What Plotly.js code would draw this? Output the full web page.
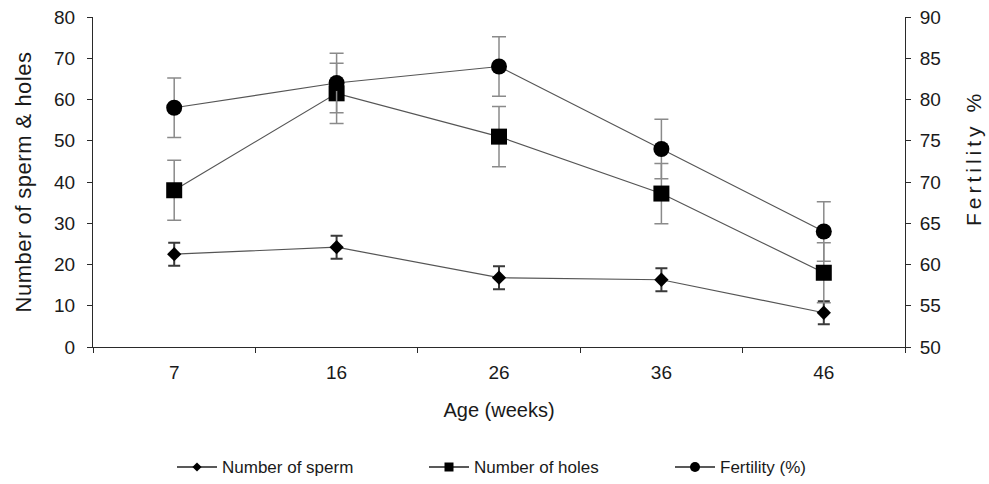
<!DOCTYPE html>
<html>
<head>
<meta charset="utf-8">
<script src="https://cdn.plot.ly/plotly-3.0.1.min.js"></script>
<style>
  html, body { margin: 0; padding: 0; background: #ffffff; }
  #chart { width: 989px; height: 484px; }
  /* the fertility axis title is set with wide letter spacing, a little above centre */
  #chart .g-y2title text { letter-spacing: 4px; }
  #chart .g-y2title { transform: translateY(-24px); }
  #chart .g-ytitle text { letter-spacing: 0.5px; }
</style>
</head>
<body>
<div id="chart"></div>
<script>
// Age groups (weeks)
const ages = ["7", "16", "26", "36", "46"];

// Sperm count and hole count per group (left axis), with standard errors
const spermCount = [22.5, 24.2, 16.8, 16.3, 8.3];
const spermErr = [2.8, 2.8, 2.8, 2.8, 2.8];
const holeCount = [38, 61.5, 51, 37.2, 18];
const holeErr = [7.3, 7.3, 7.3, 7.3, 7.3];

// Fertility (%) per group (right axis), with standard errors
const fertility = [79, 82, 84, 74, 64];
const fertilityErr = [3.6, 3.6, 3.6, 3.6, 3.6];

// Legend entries
const seriesNames = ["Number of sperm", "Number of holes", "Fertility (%)"];
const seriesSymbols = ["diamond", "square", "circle"];

const FONT = '"Liberation Sans", Arial, sans-serif';
const TEXT = '#1a1a1a';
const LINE = '#555555';
const ERR = '#8a8a8a';

// Plot area in pixels (used to place the hand-built legend below the axis)
const W = 989, H = 484;
const M = { l: 93, r: 84, t: 17, b: 137 };
const plotW = W - M.l - M.r, plotH = H - M.t - M.b;
const toPaperX = px => (px - M.l) / plotW;
const toPaperY = py => (H - M.b - py) / plotH;

const traces = [
  {
    name: seriesNames[0],
    x: ages, y: spermCount, yaxis: 'y',
    type: 'scatter', mode: 'lines+markers',
    line: { color: LINE, width: 1.2 },
    marker: { symbol: seriesSymbols[0], size: 11, color: '#000000' },
    error_y: { type: 'data', array: spermErr, visible: true, color: '#3a3a3a', thickness: 2, width: 6 }
  },
  {
    name: seriesNames[1],
    x: ages, y: holeCount, yaxis: 'y',
    type: 'scatter', mode: 'lines+markers',
    line: { color: LINE, width: 1.2 },
    marker: { symbol: seriesSymbols[1], size: 16, color: '#000000' },
    error_y: { type: 'data', array: holeErr, visible: true, color: ERR, thickness: 1.5, width: 7 }
  },
  {
    name: seriesNames[2],
    x: ages, y: fertility, yaxis: 'y2',
    type: 'scatter', mode: 'lines+markers',
    line: { color: LINE, width: 1.2 },
    marker: { symbol: seriesSymbols[2], size: 16, color: '#000000' },
    error_y: { type: 'data', array: fertilityErr, visible: true, color: ERR, thickness: 1.5, width: 7 }
  }
];

// Legend row: short line with a small marker, then the series name
const legendStart = [177, 429, 675];
const legendRowY = 467;
const legendLineLen = 40;
const shapes = [];
const annotations = [];
seriesNames.forEach((name, i) => {
  const x0 = legendStart[i];
  const cx = x0 + legendLineLen / 2;
  const yP = toPaperY(legendRowY);
  shapes.push({
    type: 'line', xref: 'paper', yref: 'paper',
    x0: toPaperX(x0), x1: toPaperX(x0 + legendLineLen), y0: yP, y1: yP,
    line: { color: '#222222', width: 1.3 }
  });
  const sym = seriesSymbols[i];
  if (sym === 'diamond') {
    const r = 4.6;
    const pts = [[cx, legendRowY - r], [cx + r, legendRowY], [cx, legendRowY + r], [cx - r, legendRowY]];
    shapes.push({
      type: 'path', xref: 'paper', yref: 'paper',
      path: 'M' + pts.map(p => toPaperX(p[0]) + ',' + toPaperY(p[1])).join('L') + 'Z',
      fillcolor: '#000000', line: { width: 0 }
    });
  } else {
    const r = sym === 'square' ? 4.5 : 5;
    shapes.push({
      type: sym === 'square' ? 'rect' : 'circle', xref: 'paper', yref: 'paper',
      x0: toPaperX(cx - r), x1: toPaperX(cx + r),
      y0: toPaperY(legendRowY + r), y1: toPaperY(legendRowY - r),
      fillcolor: '#000000', line: { width: 0 }
    });
  }
  annotations.push({
    xref: 'paper', yref: 'paper',
    x: toPaperX(x0 + legendLineLen + 3), y: yP,
    xanchor: 'left', yanchor: 'middle',
    text: name, showarrow: false,
    font: { family: FONT, size: 17, color: TEXT }
  });
});

const axisCommon = {
  showgrid: false,
  zeroline: false,
  showline: true,
  linecolor: '#2a2a2a',
  linewidth: 1,
  ticks: 'outside',
  ticklen: 5,
  tickcolor: '#2a2a2a',
  tickfont: { family: FONT, size: 19, color: TEXT }
};

const layout = {
  width: W,
  height: H,
  margin: M,
  paper_bgcolor: '#ffffff',
  plot_bgcolor: '#ffffff',
  font: { family: FONT, color: TEXT },
  showlegend: false,
  xaxis: Object.assign({}, axisCommon, {
    type: 'category',
    range: [-0.5, 4.5],
    tickson: 'boundaries',
    ticklabelstandoff: 8,
    title: { text: 'Age (weeks)', font: { family: FONT, size: 20, color: TEXT }, standoff: 21 }
  }),
  yaxis: Object.assign({}, axisCommon, {
    range: [0, 80],
    dtick: 10,
    ticklabelstandoff: 8,
    title: { text: 'Number of sperm &amp; holes', font: { family: FONT, size: 22, color: TEXT }, standoff: 16 }
  }),
  yaxis2: Object.assign({}, axisCommon, {
    range: [50, 90],
    dtick: 5,
    overlaying: 'y',
    side: 'right',
    ticklabelstandoff: 5,
    title: { text: 'Fertility %', font: { family: FONT, size: 21, color: TEXT }, standoff: 26 }
  }),
  shapes: shapes,
  annotations: annotations
};

Plotly.newPlot('chart', traces, layout, { staticPlot: true, displayModeBar: false });
</script>
</body>
</html>
